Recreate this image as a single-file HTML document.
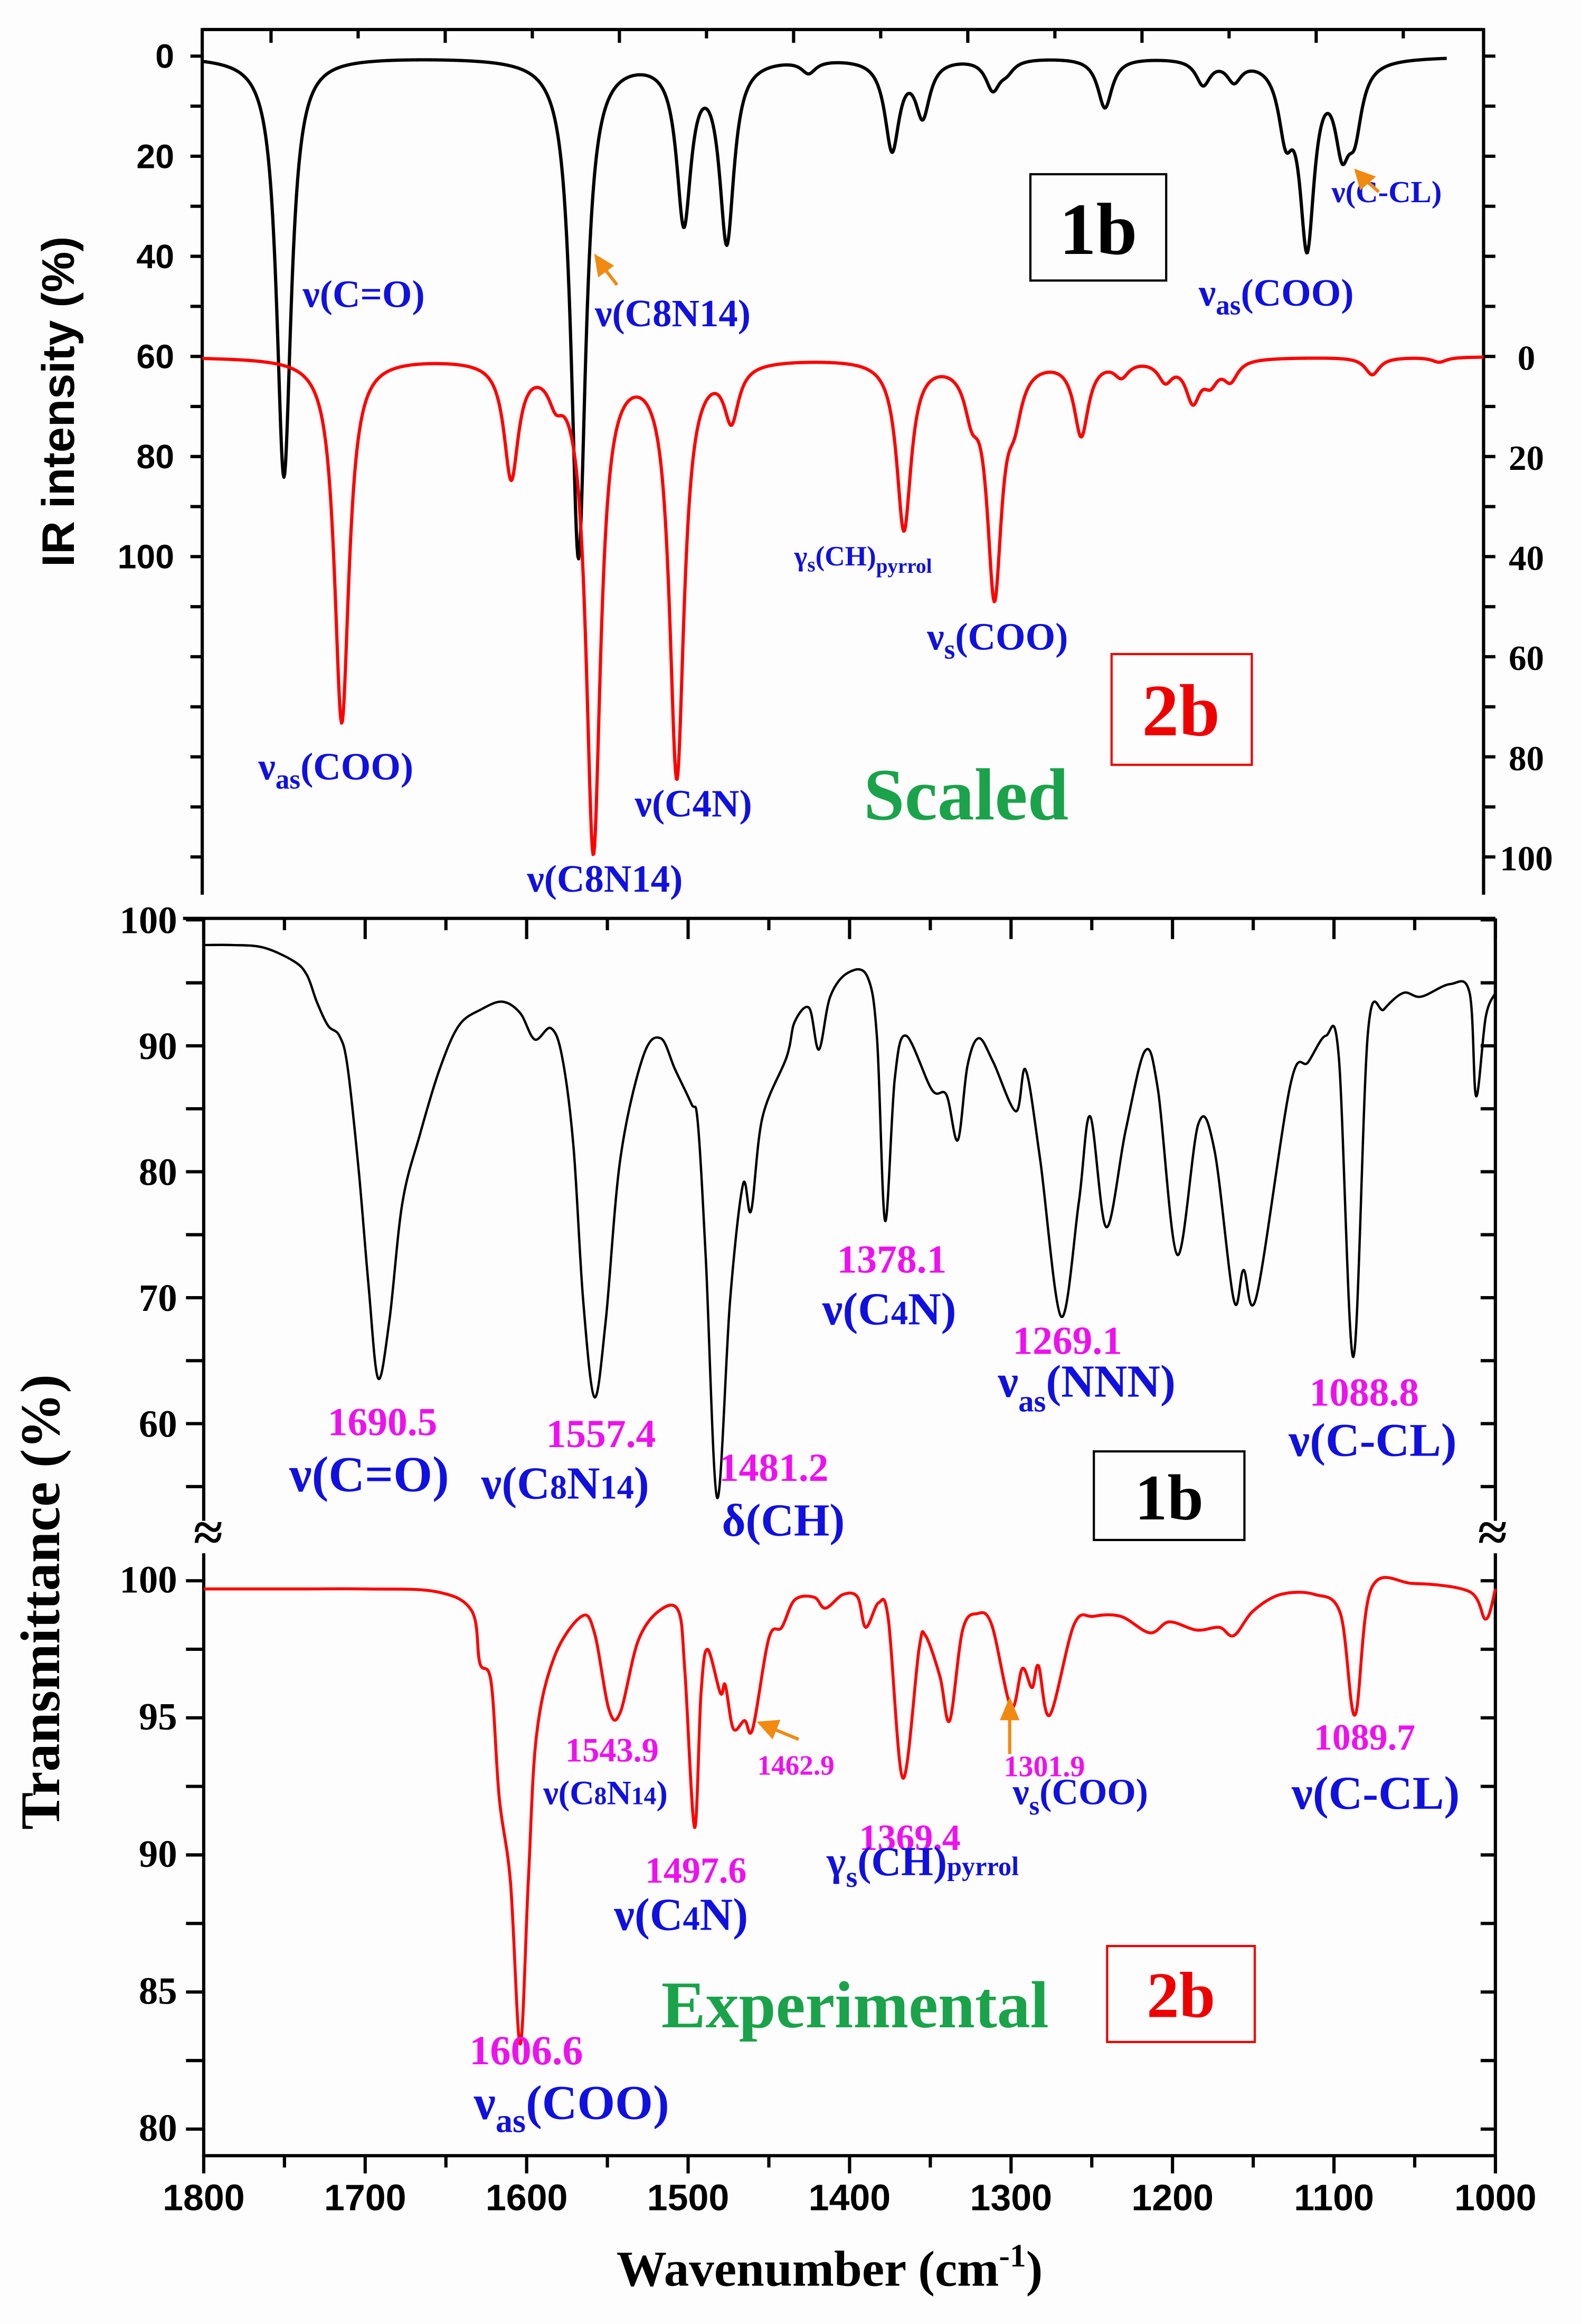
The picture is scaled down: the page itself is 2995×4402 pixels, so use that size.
<!DOCTYPE html>
<html>
<head>
<meta charset="utf-8">
<style>
html,body{margin:0;padding:0;background:#fdfdfd;}
svg{display:block;}
.ts{font-family:"Liberation Serif",serif;font-weight:bold;}
.as{font-family:"Liberation Sans",sans-serif;font-weight:bold;}
</style>
</head>
<body>
<svg id="chart" xmlns="http://www.w3.org/2000/svg" width="2995" height="4402" viewBox="0 0 1071 1574" preserveAspectRatio="none">
<rect x="0" y="0" width="1071" height="1574" fill="#fdfdfd"/>
<g id="axes"></g>
<g id="curves"></g>

<g class="as">
<text x="50" y="272" font-size="31" text-anchor="middle" transform="rotate(-90 50 272)">IR intensity (%)</text>
</g>
<g class="ts" fill="#1010e0">
<text x="205" y="208" font-size="26">ν(C=O)</text>
<text x="403" y="221" font-size="26">ν(C8N14)</text>
<text x="902" y="137" font-size="21">ν(C-CL)</text>
<text x="812" y="207" font-size="26">ν<tspan font-size="19" dy="6">as</tspan><tspan dy="-6">(COO)</tspan></text>
<text x="538" y="383" font-size="19">γ<tspan font-size="14" dy="4">s</tspan><tspan dy="-4">(CH)</tspan><tspan font-size="14" dy="5">pyrrol</tspan></text>
<text x="628" y="440" font-size="26">ν<tspan font-size="19" dy="6">s</tspan><tspan dy="-6">(COO)</tspan></text>
<text x="175" y="528" font-size="26">ν<tspan font-size="19" dy="6">as</tspan><tspan dy="-6">(COO)</tspan></text>
<text x="430" y="553" font-size="26">ν(C4N)</text>
<text x="357" y="604" font-size="26">ν(C8N14)</text>
</g>
<text class="ts" x="585" y="555" font-size="50" fill="#1aa34a">Scaled</text>
<rect x="698" y="118" width="92" height="72" fill="none" stroke="#000" stroke-width="1.5"/>
<text class="ts" x="744" y="172" font-size="50" text-anchor="middle" fill="#000">1b</text>
<rect x="753" y="443" width="95" height="75" fill="none" stroke="#e00" stroke-width="1.5"/>
<text class="ts" x="800" y="498" font-size="50" text-anchor="middle" fill="#e00">2b</text>
<g stroke="#f08a10" stroke-width="2.2" fill="#f08a10">
<line x1="418" y1="193" x2="408" y2="180"/>
<polygon points="404,174 414,180 406,186"/>
<line x1="934" y1="130" x2="924" y2="121"/>
<polygon points="919,116 930,120 922,127"/>
<line x1="541" y1="1178" x2="524" y2="1171"/>
<polygon points="515,1167 527,1166 523,1176"/>
<line x1="684" y1="1188" x2="684" y2="1162"/>
<polygon points="684,1152 679,1164 689,1164"/>
</g>

<text class="ts" x="40" y="1085" font-size="38" text-anchor="middle" transform="rotate(-90 40 1085)">Transmittance (%)</text>
<g class="ts" fill="#ee10ee" font-size="27">
<text x="222" y="972">1690.5</text>
<text x="370" y="980">1557.4</text>
<text x="487" y="1003">1481.2</text>
<text x="567" y="862">1378.1</text>
<text x="686" y="917">1269.1</text>
<text x="887" y="952">1088.8</text>
<text x="383" y="1193" font-size="23">1543.9</text>
<text x="513" y="1202" font-size="19">1462.9</text>
<text x="437" y="1275" font-size="25">1497.6</text>
<text x="582" y="1253" font-size="25">1369.4</text>
<text x="680" y="1203" font-size="20">1301.9</text>
<text x="890" y="1185" font-size="25">1089.7</text>
<text x="318" y="1398" font-size="28">1606.6</text>
</g>
<g class="ts" fill="#1010e0">
<text x="196" y="1010" font-size="34">ν(C=O)</text>
<text x="326" y="1015" font-size="31">ν(C<tspan font-size="23">8</tspan>N<tspan font-size="23">14</tspan>)</text>
<text x="489" y="1040" font-size="31">δ(CH)</text>
<text x="557" y="897" font-size="31">ν(C<tspan font-size="23">4</tspan>N)</text>
<text x="676" y="946" font-size="31">ν<tspan font-size="21" dy="10">as</tspan><tspan dy="-10">(NNN)</tspan></text>
<text x="873" y="986" font-size="32">ν(C-CL)</text>
<text x="368" y="1222" font-size="23">ν(C<tspan font-size="17">8</tspan>N<tspan font-size="17">14</tspan>)</text>
<text x="416" y="1307" font-size="31">ν(C<tspan font-size="23">4</tspan>N)</text>
<text x="560" y="1270" font-size="28">γ<tspan font-size="20" dy="8">s</tspan><tspan dy="-8">(CH)</tspan><tspan font-size="18">pyrrol</tspan></text>
<text x="686" y="1222" font-size="25">ν<tspan font-size="18" dy="7">s</tspan><tspan dy="-7">(COO)</tspan></text>
<text x="875" y="1225" font-size="32">ν(C-CL)</text>
<text x="321" y="1435" font-size="33">ν<tspan font-size="23" dy="9">as</tspan><tspan dy="-9">(COO)</tspan></text>
</g>
<rect x="741" y="983" width="102" height="60" fill="#fdfdfd" stroke="#000" stroke-width="1.5"/>
<text class="ts" x="792" y="1029" font-size="44" text-anchor="middle">1b</text>
<text class="ts" x="448" y="1373" font-size="45" fill="#1aa34a">Experimental</text>
<rect x="750" y="1318" width="100" height="65" fill="none" stroke="#e00" stroke-width="1.5"/>
<text class="ts" x="800" y="1366" font-size="44" text-anchor="middle" fill="#e00">2b</text>
<text class="ts" x="562" y="1548" font-size="34" text-anchor="middle">Wavenumber (cm<tspan font-size="22" dy="-13">-1</tspan><tspan dy="13">)</tspan></text>
<text class="ts" x="141" y="1050" font-size="36" text-anchor="middle">≈</text>
<text class="ts" x="1011" y="1050" font-size="36" text-anchor="middle">≈</text>
</svg>

<script>
const topBlackCenters=[1749,1565.1,1499.3,1472.5,1421.4,1369.3,1350.2,1306.4,1297.7,1236.4,1175.1,1155.8,1123.5,1110.2,1088.3,1080.5];
const topBlackDepths=[84,100,32,36,2.5,18,11,6,2,10,5,4,13,36,15,12];
const topRedCenters=[1712.9,1607.1,1579.3,1555.8,1503.7,1469.6,1361.9,1319.5,1305.4,1292.9,1251.2,1226.1,1198.7,1181.5,1170.5,1158,1069.5,1027.7];
const topRedDepths=[73,23,5,98,83,11,34,8,46,8,15,3,4,8,4,4,3.5,1];
const expBlackWn=[1800,1782,1763,1744,1736,1730,1723,1716,1711,1704,1698,1692,1685,1677,1666,1654,1642,1628,1615,1604,1595,1585,1578,1571,1565,1558,1551,1542,1528,1517,1508,1498,1494,1489,1482,1474,1466,1461,1454,1439,1434,1425,1419,1412,1401,1389,1383,1378,1372,1365,1349,1340,1333,1327,1320,1311,1297,1291,1282,1269,1258,1251,1241,1229,1217,1209,1197,1184,1174,1162,1156,1148,1127,1116,1105,1097,1088,1079,1069,1057,1046,1028,1016,1012,1006,1000];
const expBlackT=[98.0,98.0,97.8,96.7,95.6,93.5,91.6,90.8,88.4,80.1,71.1,63.6,68.2,77.5,83.0,88.1,91.6,92.9,93.5,92.6,90.5,91.4,89.1,82.0,69.8,62.1,68.2,81.0,89.1,90.6,88.1,85.4,83.9,73.0,54.1,69.8,79.0,76.9,84.3,89.1,91.9,93.0,89.7,93.9,95.8,95.5,90.6,76.1,87.4,90.8,86.5,86.1,82.5,88.4,90.6,88.7,84.8,88.1,81.0,68.5,77.6,84.4,75.6,83.3,89.6,86.5,73.4,83.8,81.7,69.8,72.2,70.1,86.9,88.7,90.8,89.1,65.3,91.0,92.9,94.2,93.9,94.9,94.2,86.0,92.3,94.2];
const expRedWn=[1800,1740,1700,1656,1634,1629,1622,1617,1610,1604,1599,1594,1583,1566,1558,1549,1542,1531,1518,1506,1502,1496,1492,1488,1480,1477,1472,1465,1460,1450,1442,1434,1422,1415,1404,1395,1390,1382,1376,1367,1357,1353,1344,1338,1330,1321,1312,1300,1293,1287,1283,1276,1261,1249,1232,1214,1202,1185,1171,1162,1150,1133,1112,1096,1087,1077,1051,1016,1006,1000];
const expRedT=[99.7,99.7,99.7,99.6,98.9,97.0,96.3,92.1,89.0,83.1,89.0,94.3,97.2,98.7,98.1,95.3,95.2,97.8,98.9,98.9,96.7,91.0,95.9,97.5,95.9,96.2,94.6,94.9,94.6,97.9,98.3,99.3,99.4,99.0,99.5,99.4,98.3,99.2,98.6,92.8,97.5,98.0,96.5,94.9,98.2,98.8,98.4,95.4,96.8,96.1,96.9,95.1,98.4,98.7,98.7,98.1,98.5,98.2,98.3,98.0,98.9,99.5,99.5,98.8,95.1,99.7,99.9,99.6,98.6,99.7];
const topLeftTickLabels=["0","20","40","60","80","100"];
const topRightTickLabels=["0","20","40","60","80","100"];
const midTickLabels=["100","90","80","70","60"];
const midTickValues=[100,90,80,70,60];
const botTickLabels=["100","95","90","85","80"];
const botTickValues=[100,95,90,85,80];
const xTickValues=[1800,1700,1600,1500,1400,1300,1200,1100,1000];
const xTickLabels=["1800","1700","1600","1500","1400","1300","1200","1100","1000"];

const xTop=w=>137+(1800-w)*1.085;
const yTop=v=>38+v*3.39;
const xExp=w=>138+(1800-w)*1.0938;
const yMid=t=>623+(100-t)*8.53;
const yBot=t=>1070.6+(100-t)*18.57;
const NS="http://www.w3.org/2000/svg";
const axes=document.getElementById('axes');
const curves=document.getElementById('curves');

function mk(tag,attrs,parent){const e=document.createElementNS(NS,tag);for(const k in attrs)e.setAttribute(k,attrs[k]);parent.appendChild(e);return e;}
function lor(w,c,a,g){let s=0;for(let i=0;i<c.length;i++){const d=(w-c[i])/g;s+=a[i]/(1+d*d);}return s;}
function smooth(pts){let d="M"+pts[0][0].toFixed(2)+","+pts[0][1].toFixed(2);
 for(let i=0;i<pts.length-1;i++){const p0=pts[i-1]||pts[i],p1=pts[i],p2=pts[i+1],p3=pts[i+2]||p2;
  const c1=[p1[0]+(p2[0]-p0[0])/6,p1[1]+(p2[1]-p0[1])/6],c2=[p2[0]-(p3[0]-p1[0])/6,p2[1]-(p3[1]-p1[1])/6];
  d+="C"+c1[0].toFixed(2)+","+c1[1].toFixed(2)+" "+c2[0].toFixed(2)+","+c2[1].toFixed(2)+" "+p2[0].toFixed(2)+","+p2[1].toFixed(2);}
 return d;}

let d="";
for(let w=1800;w>=1023;w-=0.5){const v=lor(w,topBlackCenters,topBlackDepths,5.5);d+=(d?"L":"M")+xTop(w).toFixed(2)+","+yTop(v).toFixed(2);}
let p=mk('path',{d:d,fill:"none",stroke:"#000","stroke-width":2.2,"stroke-linejoin":"round"},curves);


d="";
for(let w=1800;w>=1000;w-=0.5){const v=lor(w,topRedCenters,topRedDepths,5.5);d+=(d?"L":"M")+xTop(w).toFixed(2)+","+yTop(60+v).toFixed(2);}
p=mk('path',{d:d,fill:"none",stroke:"#f00","stroke-width":2.2,"stroke-linejoin":"round"},curves);



p=mk('path',{d:smooth(expBlackWn.map((w,i)=>[xExp(w),yMid(expBlackT[i])])),fill:"none",stroke:"#000","stroke-width":1.6},curves);


p=mk('path',{d:smooth(expRedWn.map((w,i)=>[xExp(w),yBot(expRedT[i])])),fill:"none",stroke:"#f00","stroke-width":2},curves);



const st={stroke:"#000","stroke-width":2.2};
let l;
l=mk('line',Object.assign({x1:137,y1:20,x2:1005,y2:20},st),axes);


l=mk('line',Object.assign({x1:137,y1:19,x2:137,y2:606},st),axes);


l=mk('line',Object.assign({x1:1005,y1:19,x2:1005,y2:606},st),axes);


for(let k=0;k<=16;k++){const y=yTop(k*10);
 l=mk('line',Object.assign({x1:129,y1:y,x2:137,y2:y},st),axes);
 
 
 l=mk('line',Object.assign({x1:1005,y1:y,x2:1013,y2:y},st),axes);
 
 }
for(let i=0;i<14;i++){const x=183.6+59*i;if(x>1000)break;
 l=mk('line',Object.assign({x1:x,y1:20,x2:x,y2:i%2===0?29:26},st),axes);
 
 }
topLeftTickLabels.forEach((s,i)=>{const t=mk('text',{x:118,y:yTop(i*20)+8,"font-size":23,"text-anchor":"end",class:"as"},axes);t.textContent=s;
 
 });
topRightTickLabels.forEach((s,i)=>{const t=mk('text',{x:1034,y:yTop(60+i*20)+9,"font-size":24,"text-anchor":"middle",class:"ts"},axes);t.textContent=s;
 
 });

l=mk('line',Object.assign({x1:124,y1:622,x2:1013,y2:622},st),axes);


[[138,622,138,1030],[138,1052,138,1461],[1013,622,1013,1030],[1013,1052,1013,1461]].forEach(a=>{
 l=mk('line',Object.assign({x1:a[0],y1:a[1],x2:a[2],y2:a[3]},st),axes);
 
 });
l=mk('line',Object.assign({x1:137,y1:1460,x2:1014,y2:1460},st),axes);


for(let t=100;t>=55;t-=5){const y=yMid(t);if(y>1025)break;
 l=mk('line',Object.assign({x1:126,y1:y,x2:138,y2:y},st),axes);
 
 
 l=mk('line',Object.assign({x1:1003,y1:y,x2:1013,y2:y},st),axes);
 
 }
for(let t=100;t>=78;t-=2.5){const y=yBot(t);if(y>1455)break;
 l=mk('line',Object.assign({x1:126,y1:y,x2:138,y2:y},st),axes);
 
 
 l=mk('line',Object.assign({x1:1003,y1:y,x2:1013,y2:y},st),axes);
 
 }
for(let w=1800;w>=1000;w-=50){const x=xExp(w);const big=(w%100===0);
 l=mk('line',Object.assign({x1:x,y1:622,x2:x,y2:big?636:630},st),axes);
 
 
 l=mk('line',Object.assign({x1:x,y1:1460,x2:x,y2:big?1472:1468},st),axes);
 
 }
midTickLabels.forEach((s,i)=>{const t=mk('text',{x:120,y:yMid(midTickValues[i])+9,"font-size":26,"text-anchor":"end",class:"ts"},axes);t.textContent=s;
 
 });
botTickLabels.forEach((s,i)=>{const t=mk('text',{x:120,y:yBot(botTickValues[i])+8,"font-size":26,"text-anchor":"end",class:"ts"},axes);t.textContent=s;
 
 });
xTickLabels.forEach((s,i)=>{const t=mk('text',{x:xExp(xTickValues[i]),y:1497,"font-size":25,"text-anchor":"middle",class:"as"},axes);t.textContent=s;
 
 });
</script>
</body>
</html>
